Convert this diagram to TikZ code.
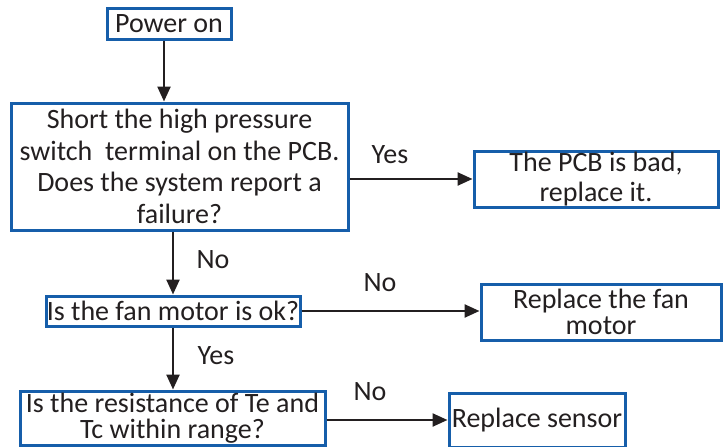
\documentclass[tikz,border=0pt]{standalone}
\usepackage{fontspec}
\setmainfont{Carlito}
\usetikzlibrary{arrows.meta,calc}
\definecolor{boxblue}{RGB}{22,94,170}
\definecolor{ink}{RGB}{35,31,32}
\tikzset{
  fbox/.style={draw=boxblue, line width=3pt, fill=white, inner sep=0pt, align=center, text=ink},
  arr/.style={draw=ink, line width=2.4pt, -{Triangle[length=15pt,width=13pt]}},
  lbl/.style={text=ink, inner sep=0pt, font=\fontsize{28}{31}\selectfont}
}
\begin{document}
\begin{tikzpicture}[x=1pt,y=-1pt]
\useasboundingbox (0,0) rectangle (723,447);
\node[fbox, minimum width=124pt, minimum height=31pt, font=\fontsize{28}{31}\selectfont] (power) at (169,23.5) {Power on};
\node[fbox, minimum width=337pt, minimum height=127pt, font=\fontsize{28}{31.5}\selectfont] (short) at (179.5,166.5) {Short the high pressure\\switch\ \ terminal on the PCB.\\Does the system report a\\failure?};
\node[fbox, minimum width=244pt, minimum height=56pt, font=\fontsize{28}{30}\selectfont] (pcb) at (596,179) {The PCB is bad,\\replace it.};
\node[fbox, minimum width=254pt, minimum height=30pt, font=\fontsize{28}{31}\selectfont] (fan) at (173,311) {Is the fan motor is ok?};
\node[fbox, minimum width=240pt, minimum height=56pt, font=\fontsize{28}{26}\selectfont] (rfan) at (601,312) {Replace the fan\\motor};
\node[fbox, minimum width=305pt, minimum height=54pt, font=\fontsize{28}{26}\selectfont] (te) at (172.5,418) {Is the resistance of Te and\\Tc within range?};
\node[fbox, minimum width=176pt, minimum height=54pt, font=\fontsize{28}{31}\selectfont] (sensor) at (537,420) {Replace sensor};
\draw[arr] ([xshift=-5pt]power.south) -- ([xshift=-5pt]power.south |- short.north);
\draw[arr] (short.east |- pcb.west) -- (pcb.west);
\draw[arr] (fan.north |- short.south) -- (fan.north);
\draw[arr] (fan.east) -- (fan.east -| rfan.west);
\draw[arr] (fan.south) -- (fan.south |- te.north);
\draw[arr] (te.east |- sensor.west) -- (sensor.west);
\node[lbl] (l1) at (390,155) {Yes};
\node[lbl] (l2) at (213,260) {No};
\node[lbl] (l3) at (380,283) {No};
\node[lbl] (l4) at (216,356) {Yes};
\node[lbl] (l5) at (370,392) {No};
\end{tikzpicture}
\end{document}
